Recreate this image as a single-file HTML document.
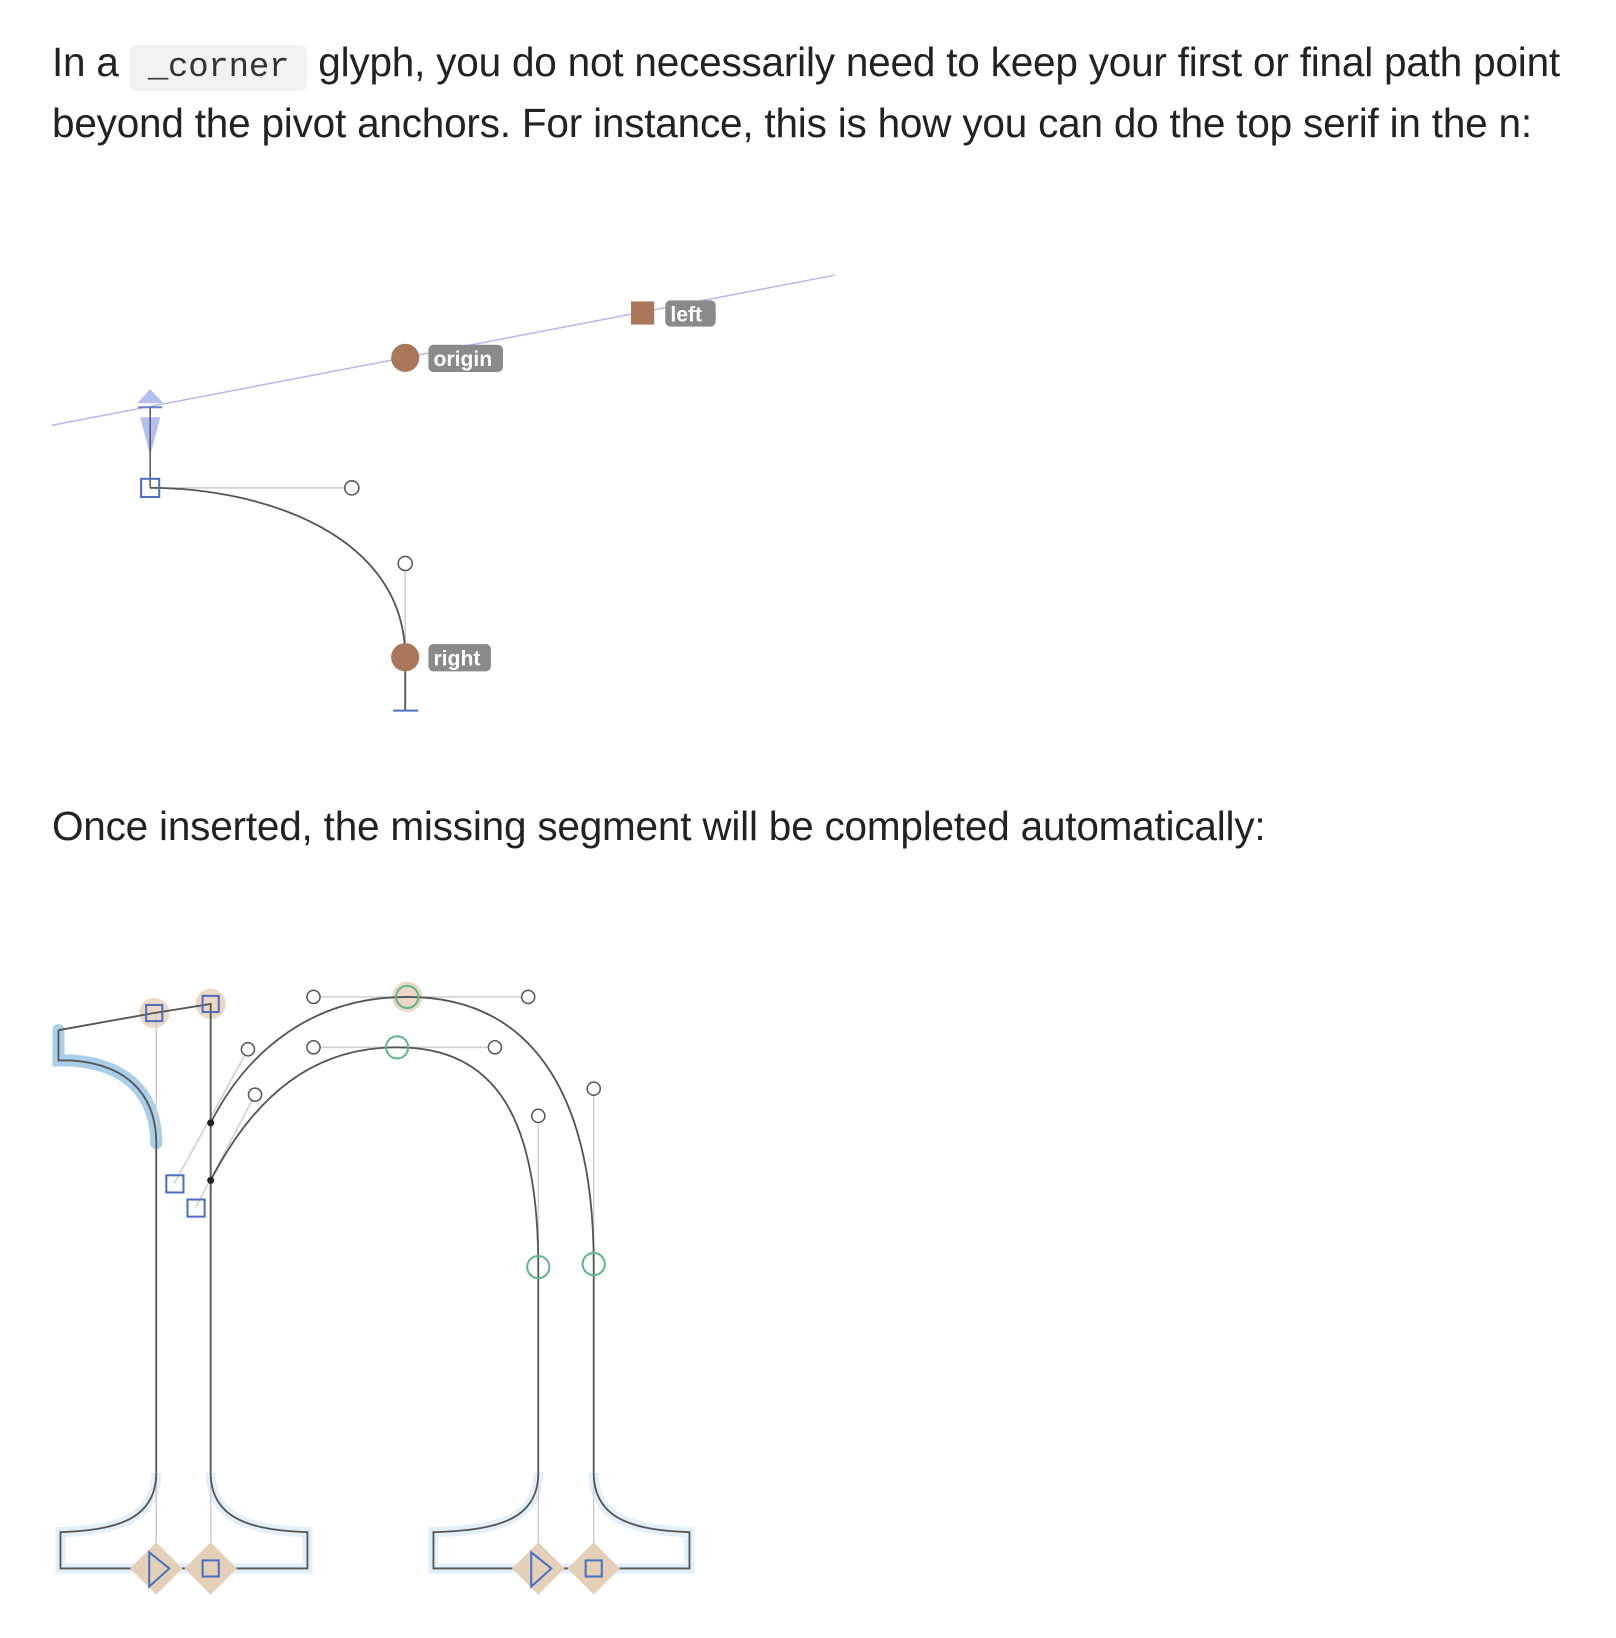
<!DOCTYPE html>
<html><head><meta charset="utf-8"><style>
html,body{margin:0;padding:0;background:#fff;}
body{width:1616px;height:1638px;position:relative;overflow:hidden;font-family:"Liberation Sans",sans-serif;color:#222;}
.p{position:absolute;left:52px;font-size:40.5px;line-height:55px;white-space:nowrap;letter-spacing:-0.2px;}
code{font-family:"Liberation Mono",monospace;font-size:34px;background:#f2f2f2;border-radius:6px;padding:4px 18px;color:#333;}
svg{position:absolute;left:0;top:0;}
.lbl{font-family:"Liberation Sans",sans-serif;font-size:21px;font-weight:bold;fill:#fff;}
</style></head><body>
<div class="p" style="top:35px;">In a <code>_corner</code> glyph, you do not necessarily need to keep your first or final path point<br>beyond the pivot anchors. For instance, this is how you can do the top serif in the n:</div>
<div class="p" style="top:799px;">Once inserted, the missing segment will be completed automatically:</div>
<svg width="1616" height="1638" viewBox="0 0 1616 1638">
<g transform="scale(1.008)">
<line x1="51" y1="422" x2="828" y2="273" stroke="#b8b8ec" stroke-width="1.5"/>
<rect x="626" y="299" width="23" height="23" fill="#a9785a"/>
<rect x="660" y="298" width="50" height="26" rx="5" fill="#8a8a8a"/>
<text x="665" y="319" class="lbl">left</text>
<circle cx="402" cy="355" r="14" fill="#a9785a"/>
<rect x="425" y="342" width="74" height="27" rx="5" fill="#8a8a8a"/>
<text x="430" y="363" class="lbl">origin</text>
<polygon points="149,386 136,400 162,400" fill="#b6bdf0"/>
<line x1="137" y1="404" x2="161" y2="404" stroke="#6a7fd0" stroke-width="2"/>
<polygon points="139,414 159,414 149,452" fill="#b6bdf0"/>
<line x1="149" y1="404" x2="149" y2="484" stroke="#555" stroke-width="1.5"/>
<line x1="149" y1="484" x2="349" y2="484" stroke="#ccc" stroke-width="1.5"/>
<line x1="402" y1="559" x2="402" y2="652" stroke="#ccc" stroke-width="1.5"/>
<path d="M149,484 C260,484 402,530 402,652 L402,705" fill="none" stroke="#555" stroke-width="1.8"/>
<line x1="390" y1="705" x2="415" y2="705" stroke="#4a6fc0" stroke-width="2"/>
<rect x="140" y="475" width="18" height="18" fill="none" stroke="#4a6fc0" stroke-width="2"/>
<circle cx="349" cy="484" r="7" fill="#fff" stroke="#555" stroke-width="1.5"/>
<circle cx="402" cy="559" r="7" fill="#fff" stroke="#555" stroke-width="1.5"/>
<circle cx="402" cy="652" r="14" fill="#a9785a"/>
<rect x="425" y="639" width="62" height="27" rx="5" fill="#8a8a8a"/>
<text x="430" y="660" class="lbl">right</text>

<g fill="none">
<path d="M58,1022 L58,1052 L70,1052 C135,1056 155,1095 155,1134" stroke="#a9cfe8" stroke-width="12" stroke-linecap="round"/>
<path d="M155,1461 C155,1510 110,1518 60,1520 L60,1556 L305,1556 L305,1520 C255,1518 209,1510 209,1461" stroke="#e3eff9" stroke-width="10"/>
<path d="M534,1461 C534,1510 489,1518 430,1520 L430,1556 L684,1556 L684,1520 C634,1518 589,1510 589,1461" stroke="#e3eff9" stroke-width="10"/>
<circle cx="153" cy="1005" r="15" fill="#ecd8c4" stroke="none"/>
<circle cx="209" cy="996" r="15" fill="#ecd8c4" stroke="none"/>
<circle cx="404" cy="989" r="15" fill="#ecd8c4" stroke="none"/>
<g stroke="#cfcfcf" stroke-width="1.5">
<line x1="311" y1="989" x2="524" y2="989"/>
<line x1="311" y1="1039" x2="491" y2="1039"/>
<line x1="173" y1="1174" x2="246" y2="1041"/>
<line x1="194" y1="1198" x2="253" y2="1086"/>
<line x1="589" y1="1080" x2="589" y2="1556"/>
<line x1="534" y1="1107" x2="534" y2="1556"/>
<line x1="155" y1="1005" x2="155" y2="1556"/>
<line x1="209" y1="996" x2="209" y2="1556"/>
</g>
<g stroke="#555" stroke-width="1.8">
<path d="M58,1022 L58,1052 L70,1052 C135,1056 155,1095 155,1134"/>
<path d="M58,1022 L153,1005 L209,996 L209,1461"/>
<path d="M155,1134 L155,1461"/>
<path d="M209,1114 C246,1041 311,989 404,989 C524,989 589,1080 589,1254 L589,1461"/>
<path d="M209,1171 C253,1086 311,1039 394,1039 C491,1039 534,1107 534,1257 L534,1461"/>
<path d="M155,1461 C155,1510 110,1518 60,1520 L60,1556 L305,1556 L305,1520 C255,1518 209,1510 209,1461"/>
<path d="M534,1461 C534,1510 489,1518 430,1520 L430,1556 L684,1556 L684,1520 C634,1518 589,1510 589,1461"/>
</g>
<circle cx="209" cy="1114" r="3.5" fill="#222"/>
<circle cx="209" cy="1171" r="3.5" fill="#222"/>
<g fill="#fff" stroke="#555" stroke-width="1.5">
<circle cx="311" cy="989" r="6.5"/><circle cx="524" cy="989" r="6.5"/>
<circle cx="311" cy="1039" r="6.5"/><circle cx="491" cy="1039" r="6.5"/>
<circle cx="246" cy="1041" r="6.5"/><circle cx="253" cy="1086" r="6.5"/>
<circle cx="589" cy="1080" r="6.5"/><circle cx="534" cy="1107" r="6.5"/>
</g>
<g stroke="#5fb88a" stroke-width="2">
<circle cx="404" cy="989" r="11"/><circle cx="394" cy="1039" r="11"/>
<circle cx="534" cy="1257" r="11"/><circle cx="589" cy="1254" r="11"/>
</g>
<g stroke="#4a6fc0" stroke-width="2">
<rect x="145" y="997" width="16" height="16"/><rect x="201" y="988" width="16" height="16"/>
<rect x="165" y="1166" width="17" height="17"/><rect x="186" y="1190" width="17" height="17"/>
</g>
<g fill="#e4d0b8" stroke="none">
<polygon points="155,1530 181,1556 155,1582 129,1556"/>
<polygon points="209,1530 235,1556 209,1582 183,1556"/>
<polygon points="534,1530 560,1556 534,1582 508,1556"/>
<polygon points="589,1530 615,1556 589,1582 563,1556"/>
</g>
<g stroke="#4a6fc0" stroke-width="2">
<polygon points="148,1540 168,1556 148,1574"/>
<rect x="201" y="1548" width="16" height="16"/>
<polygon points="527,1540 547,1556 527,1574"/>
<rect x="581" y="1548" width="16" height="16"/>
</g>
</g>
</g>
</svg>
</body></html>
